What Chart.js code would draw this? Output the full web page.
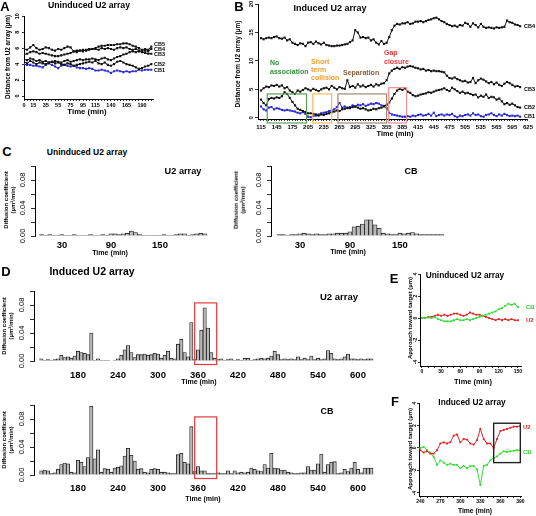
<!DOCTYPE html>
<html>
<head>
<meta charset="utf-8">
<script src="https://cdn.jsdelivr.net/npm/chart.js@4.4.0/dist/chart.umd.min.js"></script>
<style>
body { margin: 0; background: #fff; }
#fig { position: relative; width: 536px; height: 516px; overflow: hidden; background: #fff;
       font-family: "Liberation Sans", Arial, sans-serif; }
#fig canvas { position: absolute; }
.lbl { position: absolute; white-space: nowrap; }
</style>
</head>
<body>
<div id="fig"></div>
<script>
// ---- Panel A: uninduced, distance from U2 array (um), every 5 min from 0 ----
const startA = 0;
const cb5A = [5.9,5.8,6.1,6.4,6.0,5.8,5.9,6.1,6.0,5.8, 5.7,5.9,5.8,6.0,6.2,6.1,5.6,5.5,5.7,5.6, 5.8,5.9,5.9,6.0,6.2,6.3,6.3,6.4,6.4,6.4, 6.5,6.5,6.6,6.6,6.5,6.3,6.2,6.0,5.8,5.9, 5.8,6.2];
const cb4A = [5.2,5.3,5.5,5.6,5.5,5.3,5.4,5.3,5.2,5.1, 5.0,5.0,5.1,5.2,5.3,5.4,5.6,5.7,5.7,5.8, 5.7,5.8,5.9,5.9,5.8,6.0,5.9,6.0,5.9,5.8, 6.0,6.1,6.0,6.1,5.9,5.8,5.9,5.7,5.6,5.7, 5.6,5.9];
const cb3A = [4.6,4.5,4.7,4.6,4.4,4.5,4.3,4.4,4.2,4.3, 4.4,4.3,4.2,4.4,4.5,4.3,4.4,4.5,4.6,4.5, 4.6,4.6,4.7,4.6,4.5,4.7,4.8,4.6,4.5,4.7, 4.9,5.0,5.2,5.3,5.5,5.6,5.5,5.6,5.5,5.4, 5.3,5.3];
const cb2A = [4.3,4.1,4.4,4.2,4.0,4.2,4.1,4.0,4.2,4.3, 4.1,4.2,4.0,3.9,4.1,4.0,3.8,3.9,4.0,4.1, 4.2,4.3,4.2,4.4,4.1,4.0,4.2,3.9,3.8,4.0, 4.3,4.4,4.2,4.0,3.9,3.8,3.6,3.4,3.5,3.7, 3.8,4.0];
const cb1A = [4.0,3.9,3.9,3.8,3.8,3.7,3.6,3.9,4.1,3.9, 3.7,3.5,3.8,3.9,3.8,3.7,3.8,3.6,3.5,3.5, 3.4,3.5,3.4,3.2,3.2,3.3,3.2,3.1,2.9,3.1, 3.2,3.1,3.0,3.1,3.0,3.1,3.1,3.3,3.2,3.3, 3.3,3.3];
const ticksA = [0,15,35,55,75,95,115,140,165,190];

// ---- Panel B: induced, every 5 min from 115 ----
const startB = 115;
const cb4B = [14.0,13.8,14.0,14.1,14.0,14.2,14.3,14.0,13.9,14.1, 13.6,13.8,13.2,13.0,12.8,13.1,13.0,12.6,13.2,13.3,
              13.0,13.4,13.1,12.9,13.2,12.8,12.7,12.6,12.6,12.7, 12.7,12.8,12.9,13.0,13.3,13.6,15.4,15.0,14.1,14.2,
              14.0,14.1,13.6,13.8,13.2,12.9,13.5,13.0,13.2,14.2, 15.4,16.2,16.5,16.4,16.6,16.6,16.8,16.5,16.6,16.9,
              16.9,17.0,16.8,17.0,17.2,17.3,17.5,17.6,17.3,17.0, 16.8,16.5,16.3,16.1,16.2,16.0,16.3,16.2,16.7,16.5,
              16.0,16.6,16.3,15.9,16.5,16.0,15.8,15.9,15.8,15.7, 15.9,15.8,15.9,16.0,17.1,16.8,16.7,16.4,16.3,16.1];
const cb3B = [4.8,5.2,5.5,5.4,5.7,5.6,5.8,5.5,5.7,5.2, 5.4,4.8,4.5,4.2,4.8,4.6,4.9,5.2,5.0,4.8,
              5.1,4.9,4.7,5.0,5.2,5.3,5.0,5.6,5.3,5.0, 5.4,5.2,5.1,6.6,5.4,5.6,5.3,5.9,5.5,5.7,
              5.4,5.6,5.8,5.5,5.9,5.7,6.0,6.1,6.6,7.8, 8.3,8.6,8.8,8.6,8.9,8.8,9.0,9.1,9.0,8.8,
              8.7,8.5,8.6,8.3,8.4,8.2,8.3,8.2,8.2,8.1, 8.0,7.4,7.0,6.9,7.1,6.8,6.6,6.4,6.5,6.2,
              6.3,7.0,6.1,6.6,6.9,6.7,6.4,6.1,6.3,5.9, 6.2,5.8,5.6,6.0,6.3,6.1,5.8,5.5,5.6,5.4];
const cb2B = [3.2,2.6,2.2,3.3,3.5,3.4,3.6,3.5,3.8,4.5, 4.2,3.5,2.8,2.2,1.6,1.4,1.2,1.0,0.8,0.8,
              0.7,0.6,0.4,0.6,0.5,0.7,0.8,1.0,1.1,1.3, 1.2,1.5,1.6,1.8,1.7,1.9,2.0,1.8,1.6,1.7,
              1.5,1.3,1.4,1.6,1.5,1.7,1.8,2.0,2.3,2.7, 3.4,4.2,4.8,5.1,4.9,5.2,4.6,4.4,4.0,3.8,
              3.9,4.1,4.2,4.3,4.5,4.4,4.6,4.8,4.9,5.0, 5.2,4.9,4.7,5.3,5.0,4.7,4.4,4.6,4.3,4.4,
              4.2,4.0,4.1,3.6,3.9,3.7,4.1,3.5,3.7,3.6, 3.2,3.4,2.9,2.4,2.6,2.3,2.5,2.2,1.9,1.8];
const cb1B = [2.0,1.5,1.3,1.8,1.9,1.5,1.7,1.6,1.4,1.3, 1.4,1.3,1.2,1.1,0.9,0.8,1.0,0.7,0.2,0.1,
              0.3,0.4,0.6,0.8,0.9,1.0,1.2,1.3,1.5,1.9, 2.6,1.8,2.0,1.7,1.9,2.2,2.0,2.3,2.2,2.4,
              2.1,2.3,2.5,2.4,2.6,2.5,2.2,2.1,1.7,0.9, 0.6,0.5,0.4,0.3,0.2,0.2,0.3,0.2,0.4,0.3,
              0.5,0.6,0.4,0.5,0.7,0.4,0.9,0.3,0.5,0.6, 0.4,0.6,0.5,0.7,0.3,0.1,0.4,0.3,0.5,0.6,
              0.4,0.8,0.5,0.6,0.3,0.2,0.5,0.6,0.8,0.5, 0.3,0.6,0.4,0.7,0.5,0.3,0.4,0.3,0.4,0.2];
const ticksB = [115,145,175,205,235,265,295,325,355,385,415,445,475,505,535,565,595,625];
// phases marked on panel B (min, um)
const phasesB = [
  {x0: 127, x1: 202, y0: -0.9, y1: 4.2, color: '#5aa05a'},
  {x0: 214, x1: 250, y0: -0.9, y1: 4.2, color: '#f2bb5a'},
  {x0: 262, x1: 355, y0: -0.9, y1: 4.2, color: '#a38676'},
  {x0: 359, x1: 393, y0: -0.9, y1: 5.3, color: '#f08c8c'}
];

// ---- Panel C: uninduced diffusion coefficients, every 5 min from 5 ----
const startC = 5;
const u2C = [.002,.001,.002,.001,.001,.002,.001,.001,.002,.001, .001,.001,.002,.001,.001,.002,.001,.003,.003,.002,
             .003,.004,.007,.005,.002,.001,.001,.001,.001,.001, .002,.001,.001,.002,.003,.003,.001,.002,.003,.004, .003];
const cbC = [.002,.002,.001,.002,.002,.003,.004,.003,.002,.003, .002,.002,.003,.003,.004,.004,.004,.006,.013,.014,
             .017,.023,.023,.016,.011,.004,.003,.002,.002,.004, .003,.004,.005,.003,.002,.002,.002,.002,.002,.002];
const ticksC = [30, 90, 150];

// ---- Panel D: induced diffusion coefficients, every 5 min from 125 ----
const startD = 125;
const u2D = [.003,.001,.002,.001,.002,.003,.008,.005,.006,.004, .007,.014,.012,.011,.009,.040,.001,.003,.001,.001,
             .001,.000,.001,.003,.008,.016,.022,.012,.005,.009, .009,.010,.008,.009,.011,.010,.004,.008,.014,.004,
             .003,.024,.031,.012,.006,.055,.002,.016,.044,.076, .047,.012,.004,.002,.003,.001,.002,.003,.001,.002,
             .001,.004,.004,.001,.002,.003,.004,.003,.004,.007, .014,.009,.002,.003,.002,.003,.002,.006,.002,.004,
             .002,.007,.002,.004,.002,.003,.015,.011,.003,.002, .003,.006,.010,.003,.003,.002,.003,.002,.003,.003];
const cbD = [.006,.007,.006,.002,.003,.008,.015,.017,.016,.004, .003,.021,.018,.012,.025,.098,.023,.036,.004,.009,
             .008,.004,.010,.011,.013,.027,.038,.028,.020,.008, .009,.004,.003,.008,.009,.008,.004,.004,.003,.002,
             .002,.029,.031,.018,.016,.069,.005,.012,.006,.006, .002,.002,.002,.003,.002,.002,.006,.002,.006,.003,
             .004,.003,.004,.010,.008,.006,.005,.015,.010,.031, .010,.009,.007,.007,.004,.003,.002,.002,.003,.003,
             .012,.007,.007,.016,.030,.004,.015,.018,.019,.002, .003,.008,.005,.010,.018,.008,.003,.010,.010,.010];
const ticksD = [180, 240, 300, 360, 420, 480, 540, 600];
const windowD = {x0: 355, x1: 388, y0: -0.005, y1: 0.083, color: '#e33a3a'};
const ticksDiff = [0, 0.02, 0.04, 0.06, 0.08, 0.1];
const labelsDiff = [0, 0.04, 0.08];

// ---- Panel E: uninduced approach toward target (um), every 5 min from 0 ----
const startE = 0;
const cbE = [0.0,0.0,0.05,0.0,0.1,-0.1,-0.2,-0.3,-0.3,-0.3, -0.2,-0.1,-0.2,-0.2,-0.1,-0.2,-0.1,0.0,0.1,0.2,
             0.3,0.4,0.5,0.6,0.8,0.9,1.1,1.3,1.2,1.3, 1.0];
const u2E = [0.0,0.0,0.1,0.1,0.2,0.3,0.2,0.3,0.2,0.3, 0.4,0.4,0.3,0.2,0.3,0.5,0.4,0.3,0.3,0.2,
             0.1,0.0,-0.1,-0.2,-0.1,-0.2,-0.1,-0.2,-0.1,-0.2, -0.2];
const ticksE = [0, 30, 60, 90, 120, 150];

// ---- Panel F: induced approach toward target (um), every 5 min from 240 ----
const startF = 240;
const u2F = [-0.2,-0.4,-0.3,-0.5,-0.5,-0.2,0.4,0.5,0.4,0.5, 1.1,1.2,0.5,0.8,0.75,0.4,0.3,0.7,1.7,0.8,
             0.4,0.4,0.0,0.8,1.5,1.6,1.7,1.8,1.9,1.9, 1.95];
const cbF = [0.0,0.1,-0.2,-0.4,-0.8,-1.5,-1.1,-1.3,-1.5,-1.4, -1.5,-1.5,-1.8,-1.6,-1.8,-1.6,-1.6,-1.9,-3.3,-1.6,
             -1.5,-1.1,-0.9,-0.75,-0.5,-0.3,-0.35,-0.3,-0.25,-0.2, -0.2];
const ticksF = [240, 270, 300, 330, 360, 390];
const windowF = {x0: 350, x1: 390, y0: -1.3, y1: 2.2, color: '#222', width: 1.4};
const ticksApproach = [-4, -2, 0, 2, 4];

const FONT = '"Liberation Sans", Arial, sans-serif';
Chart.defaults.font.family = FONT;
Chart.defaults.color = '#000';
const fig = document.getElementById('fig');

function times(start, n) {
  const out = [];
  for (let i = 0; i < n; i++) out.push(start + 5 * i);
  return out;
}
function marks(from, to, step) {
  const out = [];
  for (let v = from; v <= to; v += step) out.push(v);
  return out;
}

// rectangles in data units (phase / window boxes)
Chart.register({
  id: 'boxes',
  afterDatasetsDraw(chart, args, opts) {
    const ctx = chart.ctx, x = chart.scales.x, y = chart.scales.y;
    (opts.list || []).forEach(b => {
      const x0 = x.getPixelForValue(b.x0), x1 = x.getPixelForValue(b.x1);
      const y0 = y.getPixelForValue(b.y0), y1 = y.getPixelForValue(b.y1);
      ctx.save();
      ctx.strokeStyle = b.color;
      ctx.lineWidth = b.width || 1.2;
      ctx.strokeRect(x0, y1, x1 - x0, y0 - y1);
      ctx.restore();
    });
  }
});

function xAxis(o) {
  return {
    type: 'linear', min: o.min, max: o.max, offset: false,
    afterFit: s => { s.height = o.h; },
    afterBuildTicks: s => { s.ticks = o.ticks.map(v => ({value: v})); },
    ticks: {
      autoSkip: false, minRotation: 0, maxRotation: 0, padding: o.pad, color: '#000',
      font: {size: o.size, weight: 'bold'},
      callback: v => o.labels.includes(v) ? String(v) : ''
    },
    grid: {display: o.tl > 0, drawOnChartArea: false, offset: false, tickLength: o.tl, color: '#000', lineWidth: 0.8},
    border: {display: o.line !== false, color: '#000', width: 1}
  };
}

function yAxis(o) {
  return {
    type: 'linear', min: o.min, max: o.max,
    afterFit: s => { s.width = o.w; },
    afterBuildTicks: s => { s.ticks = o.ticks.map(v => ({value: v})); },
    ticks: {
      autoSkip: false, minRotation: 90, maxRotation: 90, crossAlign: 'center', padding: o.pad, color: '#000',
      font: {size: o.size, weight: o.weight || 'bold'},
      callback: v => o.labels.includes(v) ? (o.fmt ? o.fmt(v) : String(v)) : ''
    },
    grid: {drawOnChartArea: false, tickLength: o.tl, color: '#000', lineWidth: 0.8},
    border: {color: '#000', width: 1}
  };
}

function makeChart(box, type, datasets, scales, plugins) {
  const c = document.createElement('canvas');
  c.width = box.w; c.height = box.h;
  Object.assign(c.style, {left: box.x + 'px', top: box.y + 'px', width: box.w + 'px', height: box.h + 'px'});
  fig.appendChild(c);
  return new Chart(c, {
    type: type,
    data: {datasets: datasets},
    options: {
      responsive: false, animation: false, devicePixelRatio: 1, events: [],
      layout: {padding: box.pad},
      plugins: Object.assign({legend: {display: false}, tooltip: {enabled: false}}, plugins || {}),
      scales: scales
    }
  });
}

function line(start, values, color, radius) {
  const xs = times(start, values.length);
  return {
    data: xs.map((x, i) => ({x: x, y: values[i]})),
    borderColor: color, backgroundColor: color, borderWidth: 1,
    pointStyle: 'rect', pointRadius: radius || 1.5, pointBorderWidth: 0, tension: 0
  };
}

function bars(start, values) {
  const xs = times(start, values.length);
  return {
    data: xs.map((x, i) => ({x: x, y: values[i]})),
    backgroundColor: '#b9b9b9', borderColor: '#1a1a1a', borderWidth: 0.8,
    barPercentage: 1, categoryPercentage: 1, grouped: false
  };
}

function text(str, x, y, size, o) {
  o = o || {};
  const d = document.createElement('div');
  d.className = 'lbl';
  d.innerHTML = str;
  let tf = o.left ? 'translate(0,-50%)' : 'translate(-50%,-50%)';
  if (o.rot) tf += ' rotate(-90deg)';
  Object.assign(d.style, {
    left: x + 'px', top: y + 'px', fontSize: size + 'px', color: o.color || '#000',
    transform: tf, fontWeight: o.normal ? 'normal' : 'bold',
    textAlign: o.left ? 'left' : 'center', lineHeight: o.lh || 1.1
  });
  fig.appendChild(d);
}

// ---- A ----
makeChart({x: 4, y: 12, w: 166, h: 97, pad: {top: 4, right: 17, left: 0, bottom: 0}}, 'line',
  [line(startA, cb5A, '#111'), line(startA, cb4A, '#111'), line(startA, cb3A, '#111'),
   line(startA, cb2A, '#111'), line(startA, cb1A, '#2b2bd0')],
  {
    x: xAxis({min: 0, max: 207.7, h: 10, ticks: marks(0, 205, 5), labels: ticksA, size: 5.5, pad: 1, tl: 2}),
    y: yAxis({min: -0.375, max: 10, w: 20, ticks: [0, 2, 4, 6, 8, 10], labels: [0, 2, 4, 6, 8, 10], size: 5.5, pad: 1, tl: 2})
  });

// ---- B ----
makeChart({x: 230, y: 0, w: 306, h: 132, pad: {top: 4, right: 7, left: 0, bottom: 0}}, 'line',
  [line(startB, cb4B, '#111'), line(startB, cb3B, '#111'), line(startB, cb2B, '#111'), line(startB, cb1B, '#2b2bd0')],
  {
    x: xAxis({min: 109.3, max: 625, h: 13, ticks: marks(115, 625, 5), labels: ticksB, size: 6, pad: 3, tl: 2}),
    y: yAxis({min: -0.2, max: 20, w: 28, ticks: [0, 5, 10, 15, 20], labels: [0, 5, 10, 15, 20], size: 6, pad: 0, tl: 3})
  },
  {boxes: {list: phasesB}});

// ---- C ----
const diffY = w => yAxis({min: 0, max: 0.1, w: w, ticks: ticksDiff, labels: labelsDiff, size: 7.5,
                          pad: 1, tl: 4, weight: 'normal', fmt: v => v.toFixed(2)});
makeChart({x: 10, y: 160, w: 205, h: 90, pad: {top: 6, right: 6, left: 0, bottom: 0}}, 'bar',
  [bars(startC, u2C)],
  {x: xAxis({min: -3, max: 210, h: 14, ticks: ticksC, labels: ticksC, size: 9.5, pad: 4, tl: 0, line: false}), y: diffY(25)});
makeChart({x: 246, y: 160, w: 210, h: 90, pad: {top: 6, right: 4, left: 0, bottom: 0}}, 'bar',
  [bars(startC, cbC)],
  {x: xAxis({min: -4.8, max: 212.5, h: 14, ticks: ticksC, labels: ticksC, size: 9.5, pad: 4, tl: 0, line: false}), y: diffY(25)});

// ---- D ----
makeChart({x: 9, y: 285, w: 371, h: 100, pad: {top: 6, right: 5, left: 0, bottom: 0}}, 'bar',
  [bars(startD, u2D)],
  {x: xAxis({min: 114, max: 625.5, h: 24, ticks: ticksD, labels: ticksD, size: 9.5, pad: 9, tl: 0, line: false}), y: diffY(25)},
  {boxes: {list: [windowD]}});
makeChart({x: 9, y: 399, w: 371, h: 100, pad: {top: 6, right: 5, left: 0, bottom: 0}}, 'bar',
  [bars(startD, cbD)],
  {x: xAxis({min: 114, max: 625.5, h: 24, ticks: ticksD, labels: ticksD, size: 9.5, pad: 8, tl: 0, line: false}), y: diffY(25)},
  {boxes: {list: [windowD]}});

// ---- E ----
makeChart({x: 406, y: 268, w: 130, h: 110, pad: {top: 6, right: 15, left: 0, bottom: 0}}, 'line',
  [line(startE, cbE, '#33dd33', 1.3), line(startE, u2E, '#e02424', 1.3)],
  {
    x: xAxis({min: -3, max: 154.8, h: 12, ticks: marks(0, 150, 10), labels: ticksE, size: 5, pad: 1, tl: 2}),
    y: yAxis({min: -4.36, max: 4, w: 14, ticks: ticksApproach, labels: ticksApproach, size: 5, pad: 0, tl: 2})
  });

// ---- F ----
makeChart({x: 406, y: 396, w: 130, h: 108, pad: {top: 7, right: 15, left: 0, bottom: 0}}, 'line',
  [line(startF, u2F, '#e02424', 1.3), line(startF, cbF, '#33dd33', 1.3)],
  {
    x: xAxis({min: 238, max: 391, h: 8, ticks: marks(240, 390, 10), labels: ticksF, size: 5, pad: 1, tl: 2}),
    y: yAxis({min: -4.27, max: 4, w: 13, ticks: ticksApproach, labels: ticksApproach, size: 5, pad: 0, tl: 2})
  },
  {boxes: {list: [windowF]}});

// ---- text ----
text('A', 5, 7, 13);
text('Uninduced U2 array', 89, 6, 8.7);
text('Time (min)', 87, 112, 7.8);
text('Distance from U2 array (µm)', 8, 57, 6.3, {rot: true});
text('CB5', 154, 44, 5.5, {left: true});
text('CB4', 154, 49, 5.5, {left: true});
text('CB3', 154, 54, 5.5, {left: true});
text('CB2', 154, 64, 5.5, {left: true});
text('CB1', 154, 70, 5.5, {left: true});

text('B', 239, 7, 13);
text('Induced U2 array', 330, 9, 9);
text('Time (min)', 395, 134, 7.3);
text('Distance from U2 array (µm)', 238, 64, 6.5, {rot: true});
text('CB4', 524, 26, 5.5, {left: true});
text('CB3', 524, 89, 5.5, {left: true});
text('CB2', 524, 107, 5.5, {left: true});
text('CB1', 524, 116, 5.5, {left: true});
text('No<br>association', 270, 68, 7, {left: true, color: '#2f8f3a', lh: 1.25});
text('Short<br>term<br>collision', 311, 70, 7, {left: true, color: '#f0a02a', lh: 1.15});
text('Separation', 343, 73, 7, {left: true, color: '#8a5a36'});
text('Gap<br>closure', 384, 58, 7, {left: true, color: '#e53a3a', lh: 1.25});

text('C', 7, 152, 13);
text('Uninduced U2 array', 87, 153, 8.5);
text('U2 array', 183, 171, 9.2);
text('CB', 411, 172, 9);
text('Time (min)', 110, 254, 7.1);
text('Time (min)', 348, 253, 7.1);
text('Diffusion coefficient<br>(µm²/min)', 10, 200, 6, {rot: true, lh: 1.2});
text('Diffusion coefficient<br>(µm²/min)', 240, 200, 6, {rot: true, lh: 1.2});

text('D', 6, 272, 13);
text('Induced U2 array', 92, 272, 10.5);
text('U2 array', 339, 297, 9.5);
text('CB', 327, 412, 9);
text('Time (min)', 199, 382, 7);
text('Time (min)', 203, 499, 7);
text('Diffusion coefficient<br>(µm²/min)', 8, 326, 6, {rot: true, lh: 1.2});
text('Diffusion coefficient<br>(µm²/min)', 8, 440, 6, {rot: true, lh: 1.2});

text('E', 394, 279, 13);
text('Uninduced U2 array', 465, 276, 8.3);
text('Time (min)', 473, 382, 7.5);
text('Approach toward target (µm)', 410, 318, 6, {rot: true});
text('CB', 526, 307, 6, {left: true, color: '#33cc33'});
text('U2', 526, 320, 6, {left: true, color: '#e02424'});

text('F', 395, 402, 13);
text('Induced U2 array', 472, 403, 8.3);
text('Time (min)', 475, 511, 6.8);
text('Approach toward target (µm)', 410, 449, 6, {rot: true});
text('U2', 523, 427, 6, {left: true, color: '#e02424'});
text('CB', 523, 452, 6, {left: true, color: '#33cc33'});
</script>
</body>
</html>
